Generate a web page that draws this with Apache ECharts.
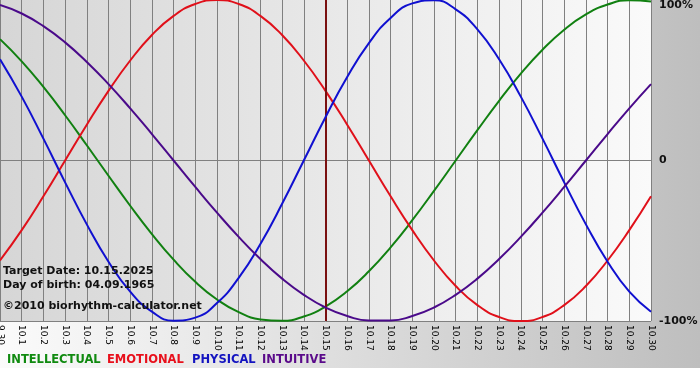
<!DOCTYPE html>
<html>
<head>
<meta charset="utf-8">
<script src="https://cdn.jsdelivr.net/npm/echarts@6/dist/echarts.min.js"></script>
<style>
  html, body { margin: 0; padding: 0; background: #fff; }
  #chart { width: 700px; height: 380px; }
</style>
</head>
<body>
<div id="chart"></div>
<script>
// days shown on the x axis (month.day)
const days = ['9.30', '10.1', '10.2', '10.3', '10.4', '10.5', '10.6', '10.7', '10.8', '10.9',
  '10.10', '10.11', '10.12', '10.13', '10.14', '10.15', '10.16', '10.17', '10.18', '10.19',
  '10.20', '10.21', '10.22', '10.23', '10.24', '10.25', '10.26', '10.27', '10.28', '10.29', '10.30']

// cycle values in percent, one per day
const intellectual = [75.6, 61.8, 45.8, 28.2, 9.5, -9.5, -28.2, -45.8, -61.8, -75.6,
  -86.6, -94.5, -99.0, -99.9, -97.2, -91.0, -81.5, -69.0, -54.1, -37.2,
  -18.9, 0, 18.9, 37.2, 54.1, 69.0, 81.5, 91.0, 97.2, 99.9, 99.0]
const emotional = [-62.3, -43.4, -22.3, 0, 22.3, 43.4, 62.3, 78.2, 90.1, 97.5,
  100, 97.5, 90.1, 78.2, 62.3, 43.4, 22.3, 0, -22.3, -43.4,
  -62.3, -78.2, -90.1, -97.5, -100, -97.5, -90.1, -78.2, -62.3, -43.4, -22.3]
const physical = [63.1, 39.8, 13.6, -13.6, -39.8, -63.1, -81.7, -94.2, -99.8, -97.9,
  -88.8, -73.1, -52.0, -27.0, 0, 27.0, 52.0, 73.1, 88.8, 97.9,
  99.8, 94.2, 81.7, 63.1, 39.8, 13.6, -13.6, -39.8, -63.1, -81.7, -94.2]
const intuitive = [96.9, 91.6, 83.7, 73.6, 61.4, 47.6, 32.5, 16.5, 0, -16.5,
  -32.5, -47.6, -61.4, -73.6, -83.7, -91.6, -96.9, -99.7, -99.7, -96.9,
  -91.6, -83.7, -73.6, -61.4, -47.6, -32.5, -16.5, 0, 16.5, 32.5, 47.6]

const targetDay = '10.15'
const infoLines = ['Target Date: 10.15.2025', 'Day of birth: 04.09.1965', '©2010 biorhythm-calculator.net']

const names = ['INTELLECTUAL', 'EMOTIONAL', 'PHYSICAL', 'INTUITIVE']
const lineColors = ['#118011', '#e0101a', '#1010d0', '#4a0a8a']
const legendColors = ['#108a10', '#e8101c', '#1414c0', '#5a0a8a']
const legendX = [7, 107, 192, 262]

const font = 'DejaVu Sans, Verdana, sans-serif'
const chart = echarts.init(document.getElementById('chart'))

const seriesData = [intellectual, emotional, physical, intuitive]
const series = seriesData.map((d, i) => ({
  name: names[i],
  type: 'line',
  data: d,
  smooth: true,
  showSymbol: false,
  silent: true,
  lineStyle: { color: lineColors[i], width: 2 },
  z: 3 + i,
}))
series[0].markLine = {
  silent: true,
  symbol: ['none', 'none'],
  label: { show: false },
  lineStyle: { color: '#7a1010', width: 2, type: 'solid' },
  data: [{ xAxis: targetDay }],
}

const graphic = [
  {
    type: 'rect', z: -100, silent: true,
    shape: { x: 0, y: 0, width: 700, height: 368 },
    style: {
      fill: new echarts.graphic.LinearGradient(0, 0, 1, 0, [
        { offset: 0, color: '#fbfbfb' }, { offset: 1, color: '#bebebe' }
      ])
    }
  },
  ...infoLines.map((t, i) => ({
    type: 'text', z: 100, left: 3, top: [266, 280, 301][i],
    style: { text: t, font: 'bold 11px ' + font, fill: '#111' }
  })),
  ...names.map((n, i) => ({
    type: 'text', z: 100, left: legendX[i], top: 354,
    style: { text: n, font: 'bold 11.5px ' + font, fill: legendColors[i] }
  })),
]

chart.setOption({
  animation: false,
  backgroundColor: '#fff',
  graphic,
  grid: {
    left: 0, right: 49, top: 0, bottom: 59,
    outerBoundsMode: 'none',
    containLabel: false,
    show: true, borderWidth: 0,
    backgroundColor: new echarts.graphic.LinearGradient(0, 0, 1, 0, [
      { offset: 0, color: '#d6d6d6' }, { offset: 1, color: '#fafafa' }
    ]),
  },
  xAxis: {
    type: 'category',
    data: days,
    boundaryGap: false,
    axisLine: { lineStyle: { color: '#808080', width: 1 } },
    axisTick: { show: true, length: 4, interval: 0, lineStyle: { color: '#808080' } },
    axisLabel: { interval: 0, rotate: -90, margin: 4, fontFamily: font, fontSize: 9, color: '#000' },
    splitLine: { show: true, interval: 0, lineStyle: { color: '#808080', width: 1 } },
  },
  yAxis: {
    type: 'value',
    position: 'right',
    min: -100, max: 100, interval: 100,
    axisLine: { show: false },
    axisTick: { show: false },
    axisLabel: {
      margin: 8, fontFamily: font, fontSize: 11, fontWeight: 'bold', color: '#111',
      verticalAlignMaxLabel: 'top',
      formatter: v => v === 0 ? '0' : v + '%',
    },
    splitLine: { show: true, lineStyle: { color: ['#808080', '#808080', 'rgba(0,0,0,0)'], width: 1 } },
  },
  series,
})
</script>
</body>
</html>
